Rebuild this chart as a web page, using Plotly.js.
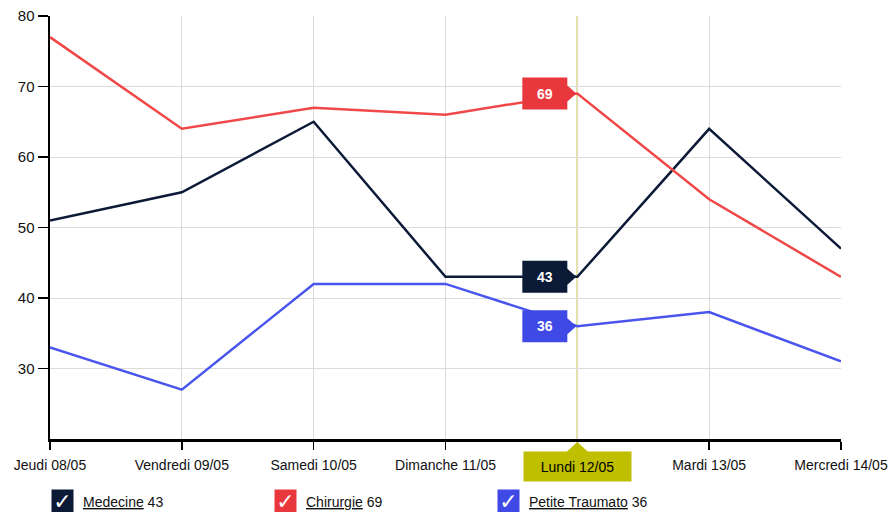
<!DOCTYPE html>
<html><head><meta charset="utf-8">
<script src="https://cdn.plot.ly/plotly-3.0.1.min.js"></script>
<style>html,body{margin:0;padding:0;background:#fff}#chart{width:890px;height:512px}</style>
</head><body><div id="chart"></div>
<script>
const categories = ['Jeudi 08/05','Vendredi 09/05','Samedi 10/05','Dimanche 11/05','Lundi 12/05','Mardi 13/05','Mercredi 14/05'];
const seriesNames = ['Medecine','Chirurgie','Petite Traumato'];
const medecine = [51,55,65,43,43,64,47];
const chirurgie = [77,64,67,66,69,54,43];
const petiteTraumato = [33,27,42,42,36,38,31];
const yTicks = [30,40,50,60,70,80];
const highlightIndex = 4;

const seriesValues = [medecine, chirurgie, petiteTraumato];
const lineColors = ['#0c1a38','#f04848','#4a55ee'];
const tagColors = ['#0b1a36','#e8383d','#3f4ae6'];
const xIdx = categories.map((_, i) => i);
const FONT = 'Liberation Sans, Arial, sans-serif';

// plot area geometry (pixels) for paper conversions
const W = 890, H = 512, L = 50, R = 49, T = 16, B = 73;
const pw = W - L - R, ph = H - T - B;
const px = v => (v - L) / pw;
const py = v => (H - B - v) / ph;

const traces = seriesValues.map((vals, s) => ({
  x: xIdx, y: vals, type: 'scatter', mode: 'lines', name: seriesNames[s],
  line: {color: lineColors[s], width: 2.5}, hoverinfo: 'none', showlegend: false
}));

const shapes = [
  {type: 'line', xref: 'x', yref: 'paper', x0: highlightIndex, x1: highlightIndex, y0: 0, y1: 1,
   line: {color: '#c4c400', width: 1.5}, layer: 'below'},
  {type: 'path', xref: 'x', yref: 'paper', xsizemode: 'pixel', ysizemode: 'pixel',
   xanchor: highlightIndex, yanchor: 0, path: 'M -12 -14 L 0 -3 L 12 -14 Z',
   fillcolor: '#bfbf00', line: {width: 0}}
];
const annotations = [
  {x: highlightIndex, xref: 'x', y: py(466.5), yref: 'paper', yanchor: 'middle', xanchor: 'center',
   text: categories[highlightIndex], showarrow: false, bgcolor: '#bfbf00', width: 107, height: 29,
   borderpad: 0, font: {family: FONT, size: 14, color: '#000'}}
];

seriesValues.forEach((vals, s) => {
  const v = vals[highlightIndex];
  shapes.push({type: 'path', xref: 'x', yref: 'y', xsizemode: 'pixel', ysizemode: 'pixel',
    xanchor: highlightIndex, yanchor: v,
    path: 'M -55 16 L -10 16 L -10 8 L -1 0 L -10 -8 L -10 -16 L -55 -16 Z',
    fillcolor: tagColors[s], line: {width: 0}, layer: 'above'});
  annotations.push({x: highlightIndex, y: v, xref: 'x', yref: 'y', xshift: -32, showarrow: false,
    text: '<b>' + v + '</b>', font: {family: FONT, size: 14, color: '#fff'}});
  // custom legend
  const boxX = 62 + s * 223, textX = 81 + s * 223;
  annotations.push({xref: 'paper', yref: 'paper', x: px(boxX), y: py(501), xanchor: 'center', yanchor: 'middle',
    text: '✓', showarrow: false, bgcolor: tagColors[s], width: 21, height: 22, borderpad: 0,
    font: {family: 'DejaVu Sans', size: 22, color: '#fff'}});
  annotations.push({xref: 'paper', yref: 'paper', x: px(textX), y: py(502), xanchor: 'left', yanchor: 'middle',
    text: '<u>' + seriesNames[s] + '</u> ' + v, showarrow: false,
    font: {family: FONT, size: 14, color: '#111'}});
});

const layout = {
  width: W, height: H, margin: {l: L, r: R, t: T, b: B},
  paper_bgcolor: '#fff', plot_bgcolor: '#fff', showlegend: false,
  xaxis: {range: [0, categories.length - 1], tickvals: xIdx,
    ticktext: categories.map((c, i) => i === highlightIndex ? '' : c),
    showgrid: true, gridcolor: '#dcdcdc', gridwidth: 1, zeroline: false,
    showline: true, linecolor: '#000', linewidth: 2.5,
    ticks: 'outside', ticklen: 8, tickwidth: 1.5, tickcolor: '#000', ticklabelstandoff: 4,
    tickfont: {family: FONT, size: 14, color: '#111'}, fixedrange: true},
  yaxis: {range: [20, 80], tickvals: yTicks, showgrid: true, gridcolor: '#dcdcdc', gridwidth: 1,
    zeroline: false, showline: true, linecolor: '#000', linewidth: 2.5,
    ticks: 'outside', ticklen: 10, tickwidth: 1.5, tickcolor: '#000',
    tickfont: {family: FONT, size: 15, color: '#111'}, fixedrange: true},
  shapes: shapes, annotations: annotations
};
Plotly.newPlot('chart', traces, layout, {displayModeBar: false, staticPlot: true});
</script></body></html>
